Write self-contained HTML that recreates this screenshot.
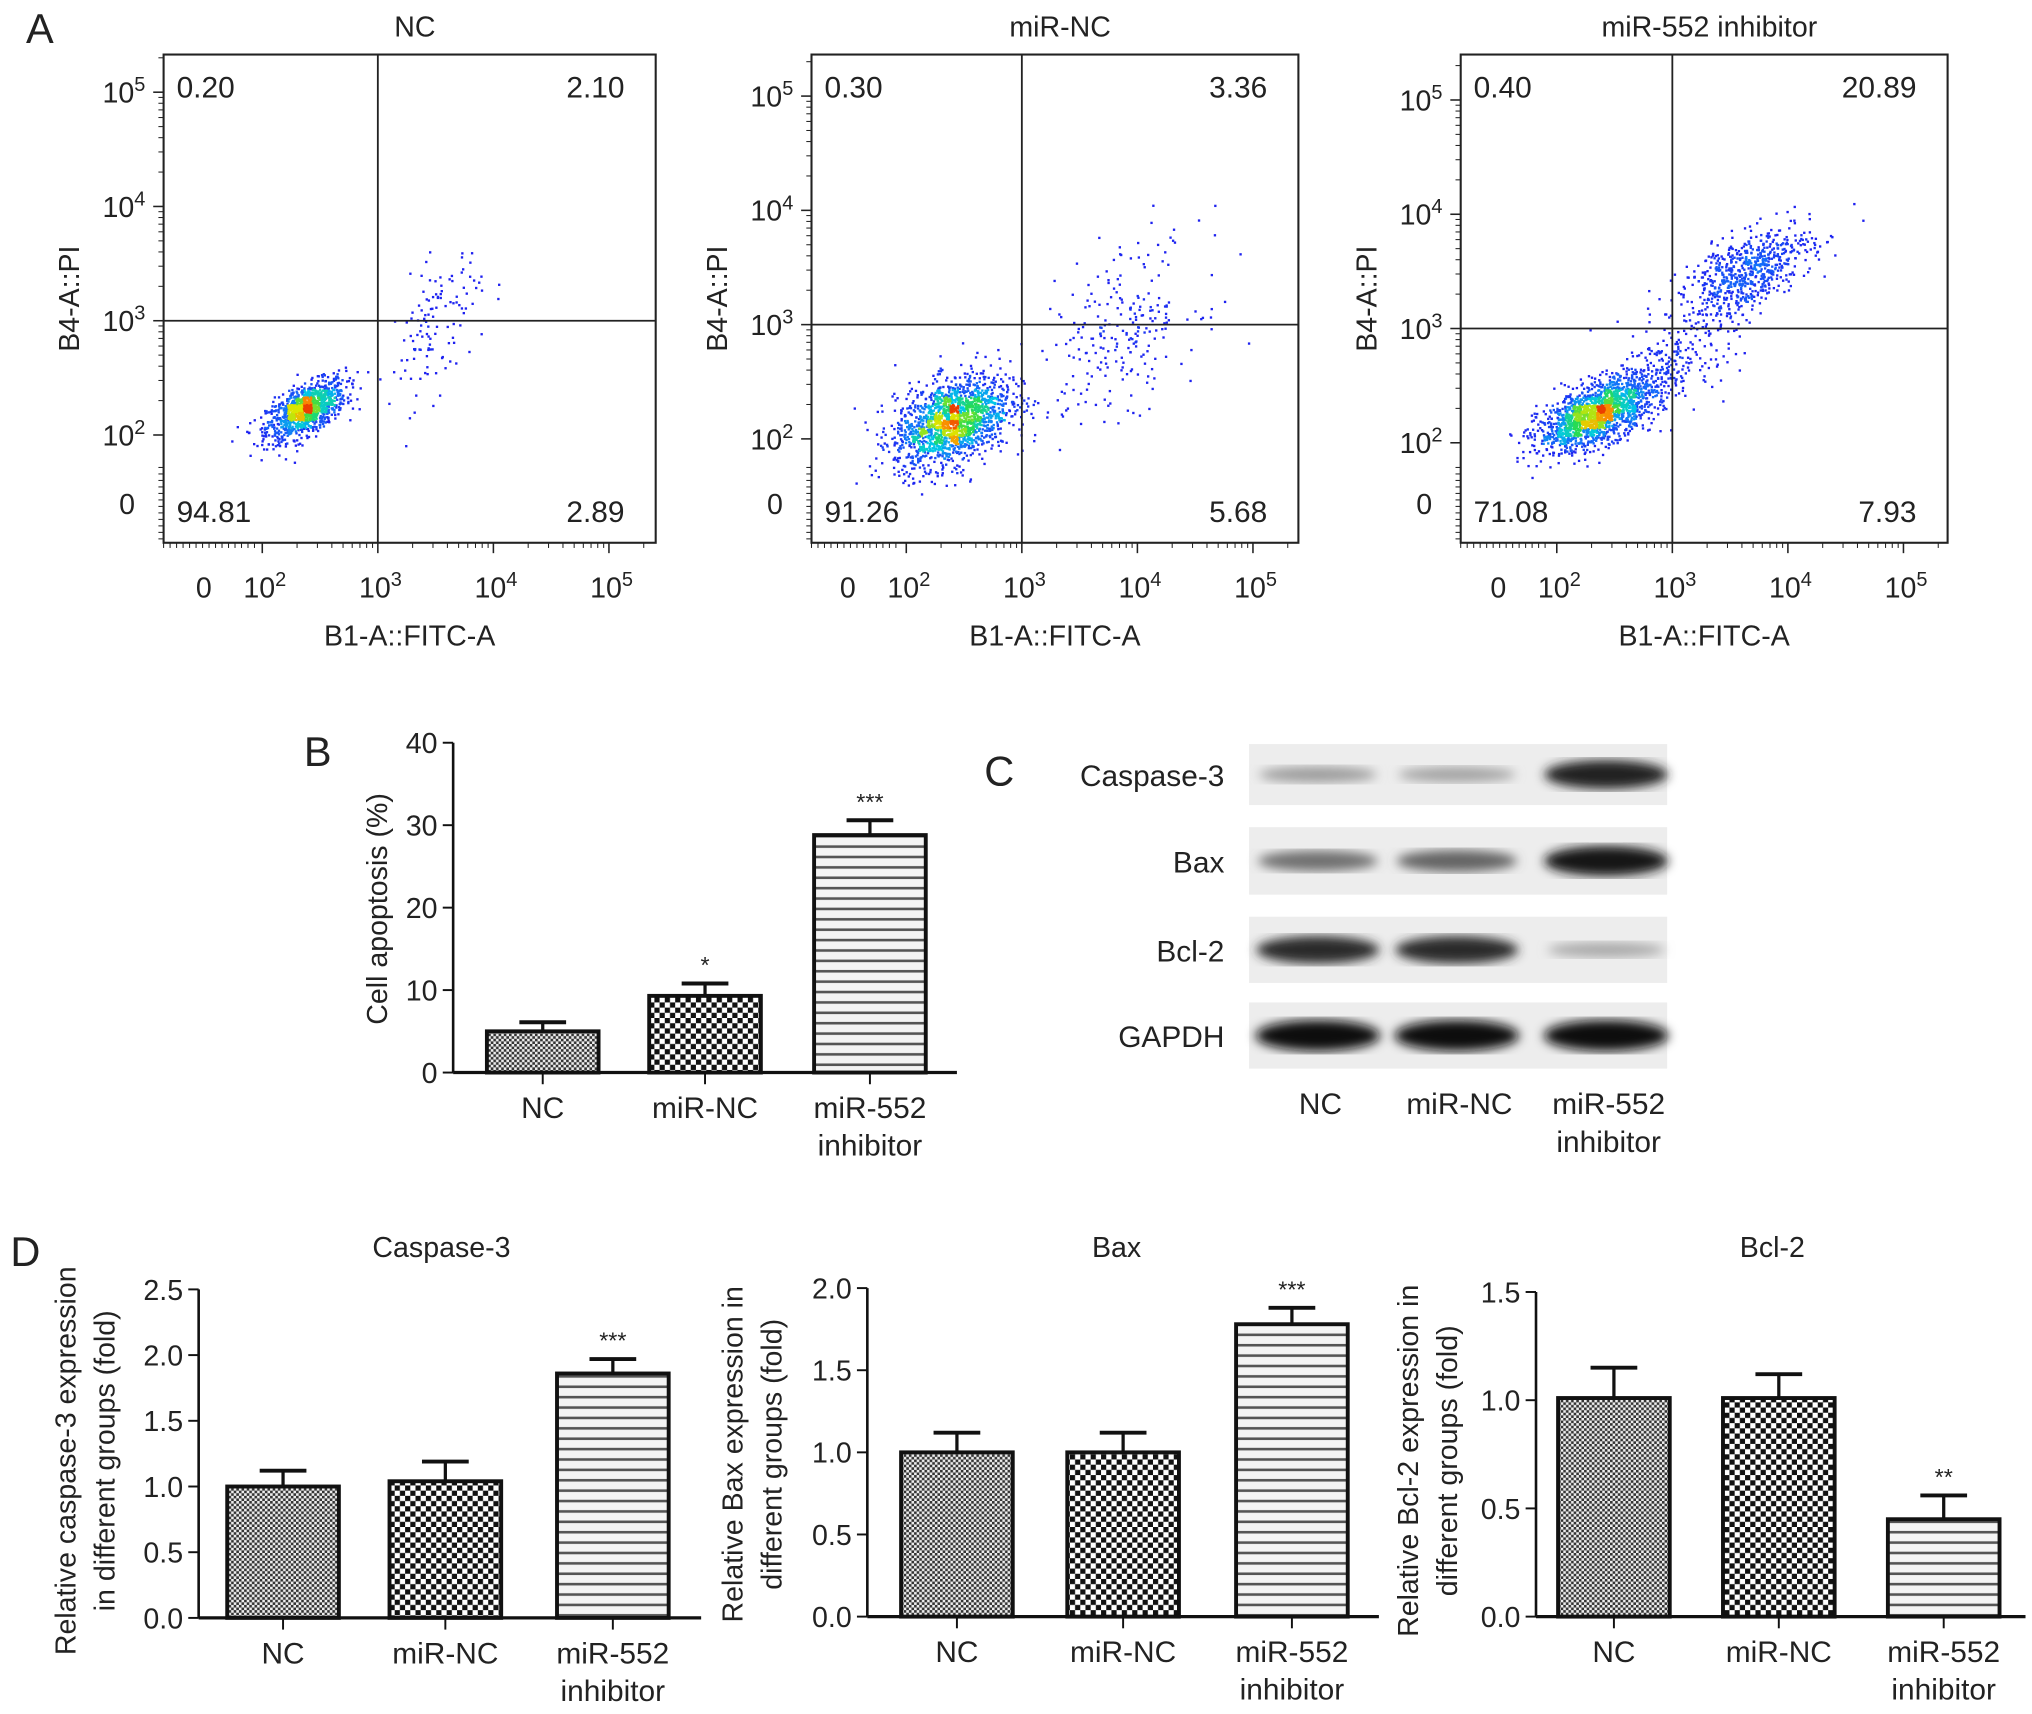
<!DOCTYPE html>
<html><head><meta charset="utf-8"><style>
html,body{margin:0;padding:0;background:#fff}
svg{display:block}
text{font-family:"Liberation Sans",sans-serif;fill:#222}
</style></head><body>
<svg id="fig" width="2032" height="1714" viewBox="0 0 1565 1320" preserveAspectRatio="none" xmlns="http://www.w3.org/2000/svg">
<defs>
<pattern id="pNC" width="4" height="4" patternUnits="userSpaceOnUse"><rect width="4" height="4" fill="#eee"/><rect width="2" height="2" fill="#333"/><rect x="2" y="2" width="2" height="2" fill="#333"/></pattern>
<pattern id="pMiR" width="8" height="8" patternUnits="userSpaceOnUse"><rect width="8" height="8" fill="#fff"/><rect width="4" height="4" fill="#111"/><rect x="4" y="4" width="4" height="4" fill="#111"/></pattern>
<pattern id="pInh" width="8" height="8" patternUnits="userSpaceOnUse"><rect width="8" height="8" fill="#f4f4f4"/><rect y="3" width="8" height="2" fill="#555"/></pattern>
<filter id="blur"><feGaussianBlur stdDeviation="4"/></filter>
</defs>
<g id="root"></g>
</svg>
<script>
// ---------- data ----------
const flowTitles = ["NC","miR-NC","miR-552 inhibitor"];
const flowQuadLL = ["94.81","91.26","71.08"];
const flowQuadUL = ["0.20","0.30","0.40"];
const flowQuadUR = ["2.10","3.36","20.89"];
const flowQuadLR = ["2.89","5.68","7.93"];
// cluster params per plot: [log x center, log y center, sd x, sd y, count, correlation]
const flowClustersNC = [[2.38,2.22,0.17,0.13,1100,0.6],[3.5,2.95,0.2,0.33,120,0.5]];
const flowClustersMiR = [[2.4,2.15,0.25,0.2,1700,0.4],[3.85,2.95,0.35,0.38,240,0.4]];
const flowClustersInh = [[2.35,2.25,0.25,0.16,1700,0.6],[3.65,3.5,0.28,0.2,650,0.6],[3.0,2.7,0.3,0.25,250,0.6]];

const bCats = ["NC","miR-NC","miR-552|inhibitor"];
const bValues = [5.0,9.3,28.8];
const bErrors = [6.1,10.8,30.6];
const bStars = ["","*","***"];
const bTicks = [0,10,20,30,40];

const casValues = [1.0,1.04,1.86];
const casErrors = [1.12,1.19,1.97];
const casStars = ["","","***"];
const casTicks = [0,0.5,1.0,1.5,2.0,2.5];
const baxValues = [1.0,1.0,1.78];
const baxErrors = [1.12,1.12,1.88];
const baxStars = ["","","***"];
const baxTicks = [0,0.5,1.0,1.5,2.0];
const bclValues = [1.01,1.01,0.45];
const bclErrors = [1.15,1.12,0.56];
const bclStars = ["","","**"];
const bclTicks = [0,0.5,1.0,1.5];

const blotRows = ["Caspase-3","Bax","Bcl-2","GAPDH"];
const blotIntensity = [[0.35,0.32,0.9],[0.55,0.6,0.95],[0.85,0.85,0.3],[1,1,1]];

// ---------- helpers ----------
const NS="http://www.w3.org/2000/svg";
const root=document.getElementById('root');
function el(tag,attrs,parent,txt){const e=document.createElementNS(NS,tag);for(const k in attrs)e.setAttribute(k,attrs[k]);if(txt!==undefined)e.textContent=txt;(parent||root).appendChild(e);return e;}
function txt(x,y,s,size,anchor,parent,name){const t=el('text',{x:x,y:y,'font-size':size,'text-anchor':anchor||'middle'},parent,s);

return t;}
function sup(x,y,base,exp,size,anchor,parent){const t=el('text',{x:x,y:y,'font-size':size,'text-anchor':anchor||'middle'},parent);


el('tspan',{},t,base);el('tspan',{dy:-size*0.4,'font-size':size*0.7},t,exp);return t;}
let seed=12345;function rnd(){seed=(seed*1103515245+12345)%2147483648;return seed/2147483648;}
function gauss(){let u=rnd()||1e-9,v=rnd();return Math.sqrt(-2*Math.log(u))*Math.cos(2*Math.PI*v);}

// panel letters
[["A",20,33],["B",234,590],["C",758,605],["D",8,975]].forEach(p=>{const t=txt(p[1],p[2],p[0],32,'start',null,'panel-label-'+p[0].toLowerCase());});

// ---------- flow plots ----------
const flowLayout=[{L:126,R:505,Qx:291,Qy:247},{L:625,R:1000,Qx:787,Qy:250},{L:1125,R:1500,Qx:1288,Qy:253}];
const clusterSets=[flowClustersNC,flowClustersMiR,flowClustersInh];
const ramp=[[30,30,240],[20,110,250],[0,200,230],[40,220,80],[220,230,0],[250,140,0],[230,30,0]];
function rampCol(f){f=Math.max(0,Math.min(1,f))*(ramp.length-1);const i=Math.min(ramp.length-2,Math.floor(f)),t=f-i;const a=ramp[i],b=ramp[i+1];return `rgb(${a.map((v,k)=>Math.round(v+(b[k]-v)*t)).join(',')})`;}
flowLayout.forEach((P,pi)=>{
 const g=el('g',{});
 const T=42,B=418;
 const xs=l=>P.Qx+(l-3)*89, ys=l=>P.Qy-(l-3)*88;
 txt((P.L+P.R)/2+4,28,flowTitles[pi],22,'middle',g,'flow-title');
 const pts=[];
 clusterSets[pi].forEach(c=>{for(let i=0;i<c[4];i++){const a=gauss(),b=gauss();const lx=c[0]+c[2]*a,ly=c[1]+c[3]*(c[5]*a+Math.sqrt(1-c[5]*c[5])*b);const px=xs(lx),py=ys(ly);if(px>P.L+3&&px<P.R-3&&py>T+3&&py<B-3)pts.push([px,py]);}});
 const grid={};pts.forEach(p=>{const k=Math.floor(p[0]/6)+','+Math.floor(p[1]/6);grid[k]=(grid[k]||0)+1;});
 let mx=1;for(const k in grid)mx=Math.max(mx,grid[k]);
 const pg=el('g',{},g);
 pts.sort((a,b)=>grid[Math.floor(a[0]/6)+','+Math.floor(a[1]/6)]-grid[Math.floor(b[0]/6)+','+Math.floor(b[1]/6)]);
 pts.forEach(p=>{const d=grid[Math.floor(p[0]/6)+','+Math.floor(p[1]/6)]/mx;el('rect',{x:p[0]-0.9,y:p[1]-0.9,width:1.8,height:1.8,fill:rampCol(Math.pow(d,1.4)*0.95)},pg);});
 const bx=el('rect',{x:P.L,y:T,width:P.R-P.L,height:B-T,fill:'none',stroke:'#222','stroke-width':1.6},g);
 const qv=el('line',{x1:P.Qx,y1:T,x2:P.Qx,y2:B,stroke:'#222','stroke-width':1.4},g);
 const qh=el('line',{x1:P.L,y1:P.Qy,x2:P.R,y2:P.Qy,stroke:'#222','stroke-width':1.4},g);
 txt(P.L+10,75,flowQuadUL[pi],23,'start',g,'quadrant-ul');
 txt(P.R-24,75,flowQuadUR[pi],23,'end',g,'quadrant-ur');
 txt(P.L+10,402,flowQuadLL[pi],23,'start',g,'quadrant-ll');
 txt(P.R-24,402,flowQuadLR[pi],23,'end',g,'quadrant-lr');
 [2,3,4,5].forEach(e=>{const y=ys(e);el('line',{x1:P.L-8,y1:y,x2:P.L,y2:y,stroke:'#222','stroke-width':1.2},g);sup(P.L-14,y+8,'10',String(e),22,'end',g);
   for(let m=2;m<10;m++){const yy=ys(e+Math.log10(m));if(yy>T) el('line',{x1:P.L-4,y1:yy,x2:P.L,y2:yy,stroke:'#222','stroke-width':0.8},g);}});
 txt(P.L-22,396,'0',22,'end',g,'tick-label');
 for(let y=360;y<418;y+=5)el('line',{x1:P.L-4,y1:y,x2:P.L,y2:y,stroke:'#222','stroke-width':0.8},g);
 [2,3,4,5].forEach(e=>{const x=xs(e);el('line',{x1:x,y1:B,x2:x,y2:B+8,stroke:'#222','stroke-width':1.2},g);sup(x+2,460,'10',String(e),22,'middle',g);
   for(let m=2;m<10;m++){const xx=xs(e+Math.log10(m));if(xx<P.R) el('line',{x1:xx,y1:B,x2:xx,y2:B+4,stroke:'#222','stroke-width':0.8},g);}});
 txt(xs(2)-45,460,'0',22,'middle',g,'tick-label');
 for(let x=P.L;x<xs(2)-5;x+=5)el('line',{x1:x,y1:B,x2:x,y2:B+4,stroke:'#222','stroke-width':0.8},g);
 txt((P.L+P.R)/2,497,'B1-A::FITC-A',22,'middle',g,'x-axis-title');
 const yt=txt(0,0,'B4-A::PI',22,'middle',g,'y-axis-title');yt.setAttribute('transform',`translate(${P.L-65},230) rotate(-90)`);
});

// ---------- bar chart helper ----------
function barChart(o){
 const g=el('g',{});
 const ys=v=>o.y0-(v/o.max)*(o.y0-o.yTop);
 const pats=['url(#pNC)','url(#pMiR)','url(#pInh)'];
 o.values.forEach((v,i)=>{const cx=o.centers[i];
  const top=ys(o.errors[i]);
  el('line',{x1:cx,y1:ys(v),x2:cx,y2:top,stroke:'#111','stroke-width':2.5},g);
  el('line',{x1:cx-18,y1:top,x2:cx+18,y2:top,stroke:'#111','stroke-width':3},g);
  const r=el('rect',{x:cx-o.bw/2,y:ys(v),width:o.bw,height:o.y0-ys(v),fill:pats[i],stroke:'#111','stroke-width':3},g);
  
  
  if(o.stars[i])txt(cx,top-8,o.stars[i],18,'middle',g,'significance-marker');
  el('line',{x1:cx,y1:o.y0,x2:cx,y2:o.y0+9,stroke:'#111','stroke-width':1.5},g);
  const parts=bCats[i].split('|');parts.forEach((p,k)=>txt(cx,o.y0+35+k*29,p,23,'middle',g,'x-tick-label'));
 });
 el('line',{x1:o.ax,y1:o.yTop,x2:o.ax,y2:o.y0,stroke:'#111','stroke-width':2},g);
 el('line',{x1:o.ax,y1:o.y0,x2:o.xEnd,y2:o.y0,stroke:'#111','stroke-width':2.5},g);
 o.ticks.forEach(t=>{const y=ys(t);el('line',{x1:o.ax-8,y1:y,x2:o.ax,y2:y,stroke:'#111','stroke-width':1.5},g);txt(o.ax-12,y+8,o.fmt(t),22,'end',g,'y-tick-label');});
 if(o.title)txt(o.titleX,968,o.title,22,'middle',g,'chart-title');
 o.ylab.forEach((s,k)=>{const t=txt(0,0,s,22,'middle',g,'y-axis-title');t.setAttribute('transform',`translate(${o.ylabX+k*30},${o.ylabY}) rotate(-90)`);});
}
barChart({name:'apoptosis-chart',ax:349,y0:826,yTop:572,max:40,xEnd:737,bw:86,centers:[418,543,670],values:bValues,errors:bErrors,stars:bStars,ticks:bTicks,fmt:t=>String(t),ylab:['Cell apoptosis (%)'],ylabX:298,ylabY:700});
barChart({name:'caspase3-chart',ax:153,y0:1246,yTop:993,max:2.5,xEnd:540,bw:86,centers:[218,343,472],values:casValues,errors:casErrors,stars:casStars,ticks:casTicks,fmt:t=>t.toFixed(1),title:'Caspase-3',titleX:340,ylab:['Relative caspase-3 expression','in different groups (fold)'],ylabX:58,ylabY:1125});
barChart({name:'bax-chart',ax:668,y0:1245,yTop:992,max:2.0,xEnd:1062,bw:86,centers:[737,865,995],values:baxValues,errors:baxErrors,stars:baxStars,ticks:baxTicks,fmt:t=>t.toFixed(1),title:'Bax',titleX:860,ylab:['Relative Bax expression in','different groups (fold)'],ylabX:572,ylabY:1120});
barChart({name:'bcl2-chart',ax:1183,y0:1245,yTop:995,max:1.5,xEnd:1560,bw:86,centers:[1243,1370,1497],values:bclValues,errors:bclErrors,stars:bclStars,ticks:bclTicks,fmt:t=>t.toFixed(1),title:'Bcl-2',titleX:1365,ylab:['Relative Bcl-2 expression in','different groups (fold)'],ylabX:1092,ylabY:1125});

// ---------- western blot ----------
(function(){
 const g=el('g',{});
 const rowY=[[573,620],[637,689],[706,757],[772,823]];
 const lanes=[1015,1122,1237];
 blotRows.forEach((r,i)=>{const [a,b]=rowY[i];
  el('rect',{x:962,y:a,width:322,height:b-a,fill:'#ededed'},g);
  const c=(a+b)/2;
  lanes.forEach((lx,j)=>{const v=blotIntensity[i][j];const gray=Math.round(235-v*225);
   const band=el('ellipse',{cx:lx,cy:c,rx:44+v*4,ry:3+v*9,fill:`rgb(${gray},${gray},${gray})`,filter:'url(#blur)'},g);
   
   });
  txt(943,c+9,r,23,'end',g,'blot-row-label');
 });
 bCats.forEach((s,i)=>s.split('|').forEach((p,k)=>txt(lanes[i]+2,858+k*29,p,23,'middle',g,'lane-label')));
})();
</script>
</body></html>
